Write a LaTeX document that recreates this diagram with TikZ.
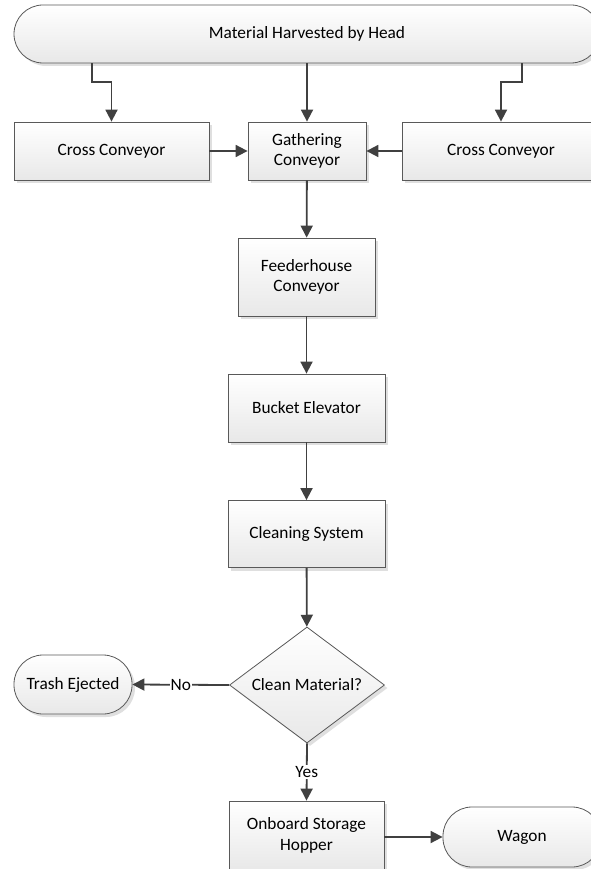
\documentclass[tikz,border=0pt]{standalone}
\usepackage{fontspec}
\setmainfont{Carlito}
\usetikzlibrary{positioning,shapes.geometric,arrows.meta,shadows}

\begin{document}
\begin{tikzpicture}[x=1pt, y=-1pt, font=\fontsize{17.3}{20.5}\selectfont,
  >={Triangle[length=12pt,width=12pt]},
  box/.style={draw=black!65, line width=0.8pt, top color=white, bottom color=black!9,
    align=center, inner sep=2pt,
    drop shadow={shadow xshift=3pt, shadow yshift=-3pt, fill=black!25, opacity=0.5}},
  term/.style={box, rounded corners=29pt},
  decide/.style={box, diamond, aspect=1.34, inner sep=0pt},
  flow/.style={draw=black!75, line width=1.8pt}]
\useasboundingbox (0,0) rectangle (590,869);
\node[term, minimum width=586, minimum height=58] (head) at (307,34) {Material Harvested by Head};
\node[box, minimum width=195, minimum height=58] (lcross) at (111.5,151) {Cross Conveyor};
\node[box, minimum width=118, minimum height=58] (gather) at (307,151) {Gathering\\Conveyor};
\node[box, minimum width=198, minimum height=58] (rcross) at (501,151) {Cross Conveyor};
\node[box, minimum width=137, minimum height=78] (feeder) at (306.5,277) {Feederhouse\\Conveyor};
\node[box, minimum width=157, minimum height=68] (bucket) at (306.5,408) {Bucket Elevator};
\node[box, minimum width=157, minimum height=67] (clean) at (306.5,534) {Cleaning System};
\node[decide, minimum width=155, minimum height=116] (check) at (307,685) {Clean Material?};
\node[term, minimum width=118, minimum height=59] (trash) at (73,684.5) {Trash Ejected};
\node[box, minimum width=155, minimum height=69] (hopper) at (306.5,835.5) {Onboard Storage\\Hopper};
\node[term, minimum width=158, minimum height=60] (wagon) at (522,837) {Wagon};
% feed from the head
\draw[flow,->] ([xshift=-215pt]head.south) -- ++(0,19) -| (lcross.north);
\draw[flow,->] ([xshift=215pt]head.south) -- ++(0,19) -| (rcross.north);
\draw[flow,->] (head) -- (gather);
\draw[flow,->] (lcross) -- (gather);
\draw[flow,->] (rcross) -- (gather);
% main column
\draw[flow,->] (gather) -- (feeder);
\draw[flow,->] (feeder) -- (bucket);
\draw[flow,->] (bucket) -- (clean);
\draw[flow,->] (clean) -- (check);
\draw[flow,->] (check.west) -- node[fill=white, inner sep=1pt]{No} (trash.east);
\draw[flow,->] (check.south) -- node[fill=white, inner sep=1pt]{Yes} (hopper.north);
\draw[flow,->] (hopper.east |- wagon) -- (wagon.west);
\end{tikzpicture}
\end{document}
